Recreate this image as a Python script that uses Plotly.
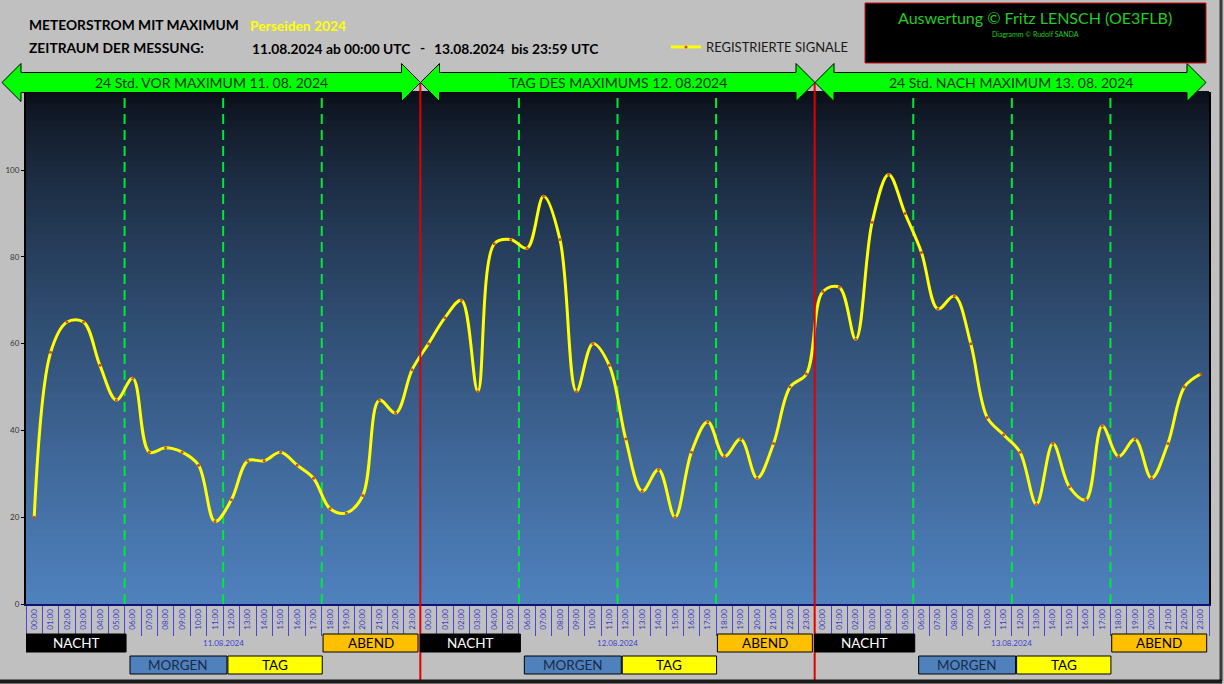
import plotly.graph_objects as go

# ---------------- data ----------------
HOUR_LABELS = ["00:00", "01:00", "02:00", "03:00", "04:00", "05:00",
               "06:00", "07:00", "08:00", "09:00", "10:00", "11:00",
               "12:00", "13:00", "14:00", "15:00", "16:00", "17:00",
               "18:00", "19:00", "20:00", "21:00", "22:00", "23:00"]
DAY_LABELS = ["11.08.2024", "12.08.2024", "13.08.2024"]
ARROW_TITLES = ["24 Std. VOR MAXIMUM 11. 08. 2024",
                "TAG DES MAXIMUMS 12. 08.2024",
                "24 Std. NACH MAXIMUM 13. 08. 2024"]
SIGNALS_11 = [20, 58, 65, 65, 55, 47, 52, 35, 36, 35, 32, 19,
              24, 33, 33, 35, 32, 29, 22, 21, 25, 47, 44, 54]
SIGNALS_12 = [60, 66, 70, 49, 83, 84, 82, 94, 84, 49, 60, 55,
              38, 26, 31, 20, 35, 42, 34, 38, 29, 37, 50, 53]
SIGNALS_13 = [72, 73, 61, 88, 99, 90, 81, 68, 71, 60, 43, 39,
              35, 23, 37, 27, 24, 41, 34, 38, 29, 37, 50, 53]
Y_TICKS = [0, 20, 40, 60, 80, 100]
PERIODS = [  # name, start hour, end hour, row, fill, text colour
    ("NACHT", -0.5, 5.59, 0, "#000000", "#ffffff"),
    ("MORGEN", 5.83, 11.73, 1, "#4f81bd", "#1b2b45"),
    ("TAG", 11.79, 17.53, 1, "#ffff00", "#000000"),
    ("ABEND", 17.58, 23.36, 0, "#ffc000", "#000000"),
]

signals = SIGNALS_11 + SIGNALS_12 + SIGNALS_13
xs = list(range(len(signals)))
ticktext = HOUR_LABELS * len(DAY_LABELS)

# ---------------- geometry helpers (pixel -> paper) ----------------
W, H = 1224, 684
L, R, T, B = 26, 15, 92, 80
PW, PH = W - L - R, H - T - B


def px(v):
    return (v - L) / PW


def py(v):
    return (H - B - v) / PH


FONT = "Lato"

fig = go.Figure()
fig.add_trace(go.Scatter(
    x=xs, y=signals, mode="lines+markers", name="REGISTRIERTE SIGNALE",
    line=dict(color="#ffff00", width=3, shape="spline", smoothing=1.0),
    marker=dict(color="#d24a12", size=3),
    showlegend=True,
))

shapes = []
# gradient background of plot area
N = 90
top_c = (10, 14, 22)
bot_c = (79, 129, 190)
for i in range(N):
    t = 1 - (i + 0.5) / N  # 0 at top, 1 at bottom
    f = t ** 0.75
    c = tuple(int(round(top_c[k] + (bot_c[k] - top_c[k]) * f)) for k in range(3))
    shapes.append(dict(type="rect", xref="paper", yref="paper",
                       x0=0, x1=1, y0=i / N, y1=(i + 1) / N + 0.002,
                       fillcolor="rgb(%d,%d,%d)" % c, line=dict(width=0),
                       layer="below"))

# green dashed separators (06:00, 12:00, 18:00 of each day)
for d in range(3):
    for hb in (5.5, 11.5, 17.5):
        xb = d * 24 + hb
        shapes.append(dict(type="line", xref="x", yref="paper", x0=xb, x1=xb,
                           y0=0, y1=1, layer="below",
                           line=dict(color="#00e83a", width=2, dash="10px,6px")))

# red day separators
for xb in (23.5, 47.5):
    shapes.append(dict(type="line", xref="x", yref="paper", x0=xb, x1=xb,
                       y0=py(680), y1=py(82),
                       line=dict(color="#e00000", width=2)))

# period boxes
annotations = []
for d in range(3):
    for name, h0, h1, row, fill, tc in PERIODS:
        y0p, y1p = (634, 652) if row == 0 else (656, 674)
        shapes.append(dict(type="rect", xref="x", yref="paper",
                           x0=d * 24 + h0, x1=d * 24 + h1,
                           y0=py(y1p), y1=py(y0p), fillcolor=fill,
                           line=dict(color="#000000", width=1)))
        annotations.append(dict(x=d * 24 + (h0 + h1) / 2, y=py((y0p + y1p) / 2),
                                xref="x", yref="paper", text=name, showarrow=False,
                                font=dict(family=FONT, size=13.5, color=tc),
                                xanchor="center", yanchor="middle"))
    annotations.append(dict(x=d * 24 + 11.5, y=py(643), xref="x", yref="paper",
                            text=DAY_LABELS[d], showarrow=False,
                            font=dict(family=FONT, size=8, color="#4040d0"),
                            xanchor="center", yanchor="middle"))

# green double arrows
ARROW_X = [(2, 420.5), (420.5, 815), (815, 1206)]
yc, hh, bh, hl = 82.5, 19, 10, 19
for (a, b), title in zip(ARROW_X, ARROW_TITLES):
    pts = [(a, yc), (a + hl, yc - hh), (a + hl, yc - bh), (b - hl, yc - bh),
           (b - hl, yc - hh), (b, yc), (b - hl, yc + hh), (b - hl, yc + bh),
           (a + hl, yc + bh), (a + hl, yc + hh)]
    path = "M " + " L ".join("%.5f,%.5f" % (px(p[0]), py(p[1])) for p in pts) + " Z"
    shapes.append(dict(type="path", xref="paper", yref="paper", path=path,
                       fillcolor="#00ff00", line=dict(color="#000000", width=1)))
    annotations.append(dict(x=px((a + b) / 2), y=py(82), xref="paper", yref="paper",
                            text=title, showarrow=False,
                            font=dict(family=FONT, size=14, color="#143214"),
                            xanchor="center", yanchor="middle"))

# credit box
shapes.append(dict(type="rect", xref="paper", yref="paper",
                   x0=px(865), x1=px(1206), y0=py(63), y1=py(3),
                   fillcolor="#000000", line=dict(color="#d01010", width=1)))
annotations.append(dict(x=px(1035), y=py(17), xref="paper", yref="paper",
                        text="Auswertung © Fritz LENSCH (OE3FLB)", showarrow=False,
                        font=dict(family=FONT, size=16, color="#22cc22"),
                        xanchor="center", yanchor="middle"))
annotations.append(dict(x=px(1035), y=py(34), xref="paper", yref="paper",
                        text="Diagramm © Rudolf SANDA", showarrow=False,
                        font=dict(family=FONT, size=7, color="#22cc22"),
                        xanchor="center", yanchor="middle"))

# header texts
HEAD = [
    ("METEORSTROM MIT MAXIMUM", 27, 24, "#000000", 13.8),
    ("Perseiden 2024", 248, 25, "#ffff00", 13.8),
    ("ZEITRAUM DER MESSUNG:", 27, 47, "#000000", 13.8),
    ("11.08.2024 ab 00:00 UTC", 250, 48, "#000000", 13.8),
    ("-", 418, 47, "#000000", 13.8),
    ("13.08.2024  bis 23:59 UTC", 432, 48, "#000000", 13.8),
]
for txt, x0, y0, col, sz in HEAD:
    annotations.append(dict(x=px(x0), y=py(y0), xref="paper", yref="paper",
                            text="<b>%s</b>" % txt, showarrow=False,
                            font=dict(family=FONT, size=sz, color=col),
                            xanchor="left", yanchor="middle"))

# outer frame shadow (right and bottom)
shapes.append(dict(type="line", xref="paper", yref="paper", x0=px(1221), x1=px(1221),
                   y0=py(681), y1=py(0), line=dict(color="#3a3a3a", width=3)))
shapes.append(dict(type="line", xref="paper", yref="paper", x0=px(0), x1=px(1222),
                   y0=py(681.5), y1=py(681.5), line=dict(color="#1a1a1a", width=4)))

fig.update_layout(
    width=W, height=H,
    margin=dict(l=L, r=R, t=T, b=B, autoexpand=False),
    paper_bgcolor="#c0c0c0",
    plot_bgcolor="#4f81be",
    shapes=shapes,
    annotations=annotations,
    font=dict(family=FONT),
    legend=dict(x=px(666), y=py(47), xanchor="left", yanchor="middle",
                bgcolor="rgba(0,0,0,0)", borderwidth=0,
                font=dict(family=FONT, size=13, color="#1a1a1a"),
                itemwidth=30),
    xaxis=dict(
        range=[-0.5, 71.5], tickmode="array", tickvals=xs, ticktext=ticktext,
        tickangle=-90, tickfont=dict(family=FONT, size=8, color="#3b3bd0"),
        ticks="", showgrid=False, zeroline=False, automargin=False,
        showline=True, linecolor="#10107a", linewidth=2,
        minor=dict(tickmode="array", tickvals=[v - 0.5 for v in xs] + [71.5],
                   ticks="outside", ticklen=30, tickwidth=1, tickcolor="#4848d8",
                   showgrid=False),
    ),
    yaxis=dict(
        range=[0, 118], tickmode="array", tickvals=Y_TICKS,
        tickfont=dict(family=FONT, size=8, color="#333333"),
        ticks="outside", ticklen=3, tickcolor="#000000", automargin=False,
        showgrid=False, zeroline=False,
        showline=True, linecolor="#000000", linewidth=2, mirror=True,
    ),
)

fig.write_html("out.html")
